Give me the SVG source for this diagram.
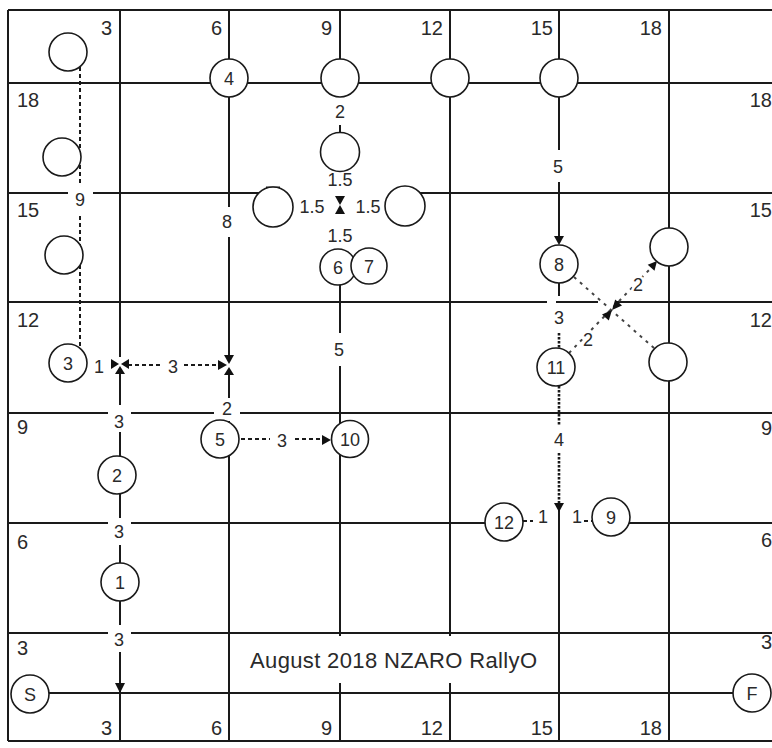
<svg xmlns="http://www.w3.org/2000/svg" width="772" height="748" viewBox="0 0 772 748">
<style>
.g{stroke:#1a1a1a;stroke-width:2;fill:none}
.dot{stroke:#1a1a1a;stroke-width:2;stroke-dasharray:4 3;fill:none}
.dd{stroke:#1a1a1a;stroke-width:2.6;stroke-dasharray:2.5 1.5;fill:none}
.diag{stroke:#444;stroke-width:2;stroke-dasharray:3 5;fill:none}
.ah{fill:#111;stroke:none}
.n circle{fill:#fff;stroke:#1a1a1a;stroke-width:1.6}
text{font-family:"Liberation Sans",Arial,sans-serif;fill:#2a2a2a}
.nl{font-size:18px;text-anchor:middle}
.el{font-size:18px;text-anchor:middle}
.halo{stroke:#fff;stroke-width:5;paint-order:stroke}
.gl{font-size:20px}
.r{text-anchor:end}
.title{font-size:22px}
</style>
<rect width="772" height="748" fill="#fff"/>
<g id="grid" class="g">
<path d="M8 10H772M8 83H772M8 193H68M93 193H259M417 193H772M8 302H547M556 302H598M616 302H772M8 413H108M131 413H214M240 413H772M8 523H108M131 523H504M611 523H772M8 633H108M131 633H772M30 693H752M8 741H772"/>
<path d="M8 10V741M120 10V357M120 373V405M120 432V518M120 545V625M120 652V741M229 10V207M229 237V357M229 373V398M229 421V741M340 10V97M340 125V133M340 284V333M340 366V636M340 683V741M450 10V636M450 683V741M559 10V150M559 182V238M559 283V296M559 510V741M669 10V741"/>
<path d="M266 188H280" stroke-width="3"/>
</g>
<g id="connectors">
<path class="dd" d="M559 333V349M559 386V425M559 453V503"/>
<path class="dot" d="M80 67V183M80 216V347M128 365H163M184 365H218M241 439H270M295 439H322M523 521H533M584 521H592"/>
<path class="diag" d="M574 277L655 349M569 353L651 268"/>
<polygon class="ah" points="115,683 125,683 120,693"/>
<polygon class="ah" points="554,236 564,236 559,245"/>
<polygon class="ah" points="554,503 564,503 559,512"/>
<polygon class="ah" points="111,359 111,369 119,364"/>
<polygon class="ah" points="129,359 129,369 121,364"/>
<polygon class="ah" points="115,374 125,374 120,366"/>
<polygon class="ah" points="218,360 218,370 227,365"/>
<polygon class="ah" points="224,355 234,355 229,364"/>
<polygon class="ah" points="224,375 234,375 229,367"/>
<polygon class="ah" points="322,435 322,445 331,440"/>
<polygon class="ah" points="335,196 345,196 340,205"/>
<polygon class="ah" points="335,214 345,214 340,205"/>
<polygon class="ah" points="608.8,320.5 602,314.5 612,310"/>
<polygon class="ah" points="622,305.5 615.2,299.5 612,310"/>
<polygon class="ah" points="654.5,270.8 647.7,264.8 657,261"/>
</g>
<g id="edge-labels" class="el">
<text x="119" y="428">3</text>
<text x="119" y="538">3</text>
<text x="119" y="646">3</text>
<text x="80" y="206">9</text>
<text x="227" y="228">8</text>
<text x="340" y="118">2</text>
<text x="340" y="186">1.5</text>
<text x="312" y="213">1.5</text>
<text x="368" y="213">1.5</text>
<text x="340" y="242">1.5</text>
<text x="558" y="173">5</text>
<text x="339" y="356">5</text>
<text x="99" y="373">1</text>
<text x="173" y="373">3</text>
<text x="227" y="415">2</text>
<text x="282" y="447">3</text>
<text x="559" y="324">3</text>
<text class="halo" x="638" y="291">2</text>
<text class="halo" x="588" y="346">2</text>
<text x="559" y="446">4</text>
<text x="543" y="523">1</text>
<text x="577" y="523">1</text>
</g>
<g id="grid-labels" class="gl">
<text class="r" x="112" y="35">3</text>
<text class="r" x="222" y="35">6</text>
<text class="r" x="332" y="35">9</text>
<text class="r" x="443" y="35">12</text>
<text class="r" x="553" y="35">15</text>
<text class="r" x="662" y="35">18</text>
<text class="r" x="112" y="735">3</text>
<text class="r" x="222" y="735">6</text>
<text class="r" x="332" y="735">9</text>
<text class="r" x="443" y="735">12</text>
<text class="r" x="553" y="735">15</text>
<text class="r" x="662" y="735">18</text>
<text x="17" y="107">18</text>
<text x="17" y="217">15</text>
<text x="17" y="327">12</text>
<text x="17" y="434">9</text>
<text x="17" y="549">6</text>
<text x="17" y="655">3</text>
<text class="r" x="772" y="107">18</text>
<text class="r" x="772" y="217">15</text>
<text class="r" x="772" y="327">12</text>
<text class="r" x="772" y="435">9</text>
<text class="r" x="772" y="547">6</text>
<text class="r" x="772" y="649">3</text>
</g>
<text class="title" x="250" y="668" textLength="287" lengthAdjust="spacing">August 2018 NZARO RallyO</text>
<g id="u1" class="n"><circle cx="68" cy="52" r="19"/></g>
<g id="n4" class="n"><circle cx="229" cy="78" r="19"/><text class="nl" x="229" y="84.5">4</text></g>
<g id="u2" class="n"><circle cx="340" cy="78" r="19"/></g>
<g id="u3" class="n"><circle cx="450" cy="78" r="19"/></g>
<g id="u4" class="n"><circle cx="559" cy="78" r="19"/></g>
<g id="u5" class="n"><circle cx="62" cy="157" r="19"/></g>
<g id="u6" class="n"><circle cx="340" cy="152" r="19.5"/></g>
<g id="u7" class="n"><circle cx="273" cy="207" r="20"/></g>
<g id="u8" class="n"><circle cx="405" cy="206" r="20"/></g>
<g id="u9" class="n"><circle cx="64" cy="255" r="19"/></g>
<g id="n6" class="n"><circle cx="338" cy="267" r="18"/><text class="nl" x="338" y="273.5">6</text></g>
<g id="n7" class="n"><circle cx="369" cy="266" r="18"/><text class="nl" x="369" y="272.5">7</text></g>
<g id="n8" class="n"><circle cx="559" cy="264" r="19"/><text class="nl" x="559" y="270.5">8</text></g>
<g id="u10" class="n"><circle cx="669" cy="247" r="19"/></g>
<g id="u11" class="n"><circle cx="668" cy="362" r="19"/></g>
<g id="n3" class="n"><circle cx="68" cy="363" r="19"/><text class="nl" x="68" y="369.5">3</text></g>
<g id="n11" class="n"><circle cx="556" cy="367" r="19"/><text class="nl" x="556" y="373.5">11</text></g>
<g id="n5" class="n"><circle cx="220" cy="439" r="19"/><text class="nl" x="220" y="445.5">5</text></g>
<g id="n10" class="n"><circle cx="350" cy="439" r="18.5"/><text class="nl" x="350" y="445.5">10</text></g>
<g id="n2" class="n"><circle cx="117" cy="475" r="19"/><text class="nl" x="117" y="481.5">2</text></g>
<g id="n12" class="n"><circle cx="504" cy="522" r="19"/><text class="nl" x="504" y="528.5">12</text></g>
<g id="n9" class="n"><circle cx="611" cy="517" r="19"/><text class="nl" x="611" y="523.5">9</text></g>
<g id="n1" class="n"><circle cx="120" cy="582" r="19"/><text class="nl" x="120" y="588.5">1</text></g>
<g id="start" class="n"><circle cx="30" cy="694" r="19"/><text class="nl" x="30" y="700.5">S</text></g>
<g id="finish" class="n"><circle cx="752" cy="693" r="19"/><text class="nl" x="752" y="699.5">F</text></g>
</svg>
